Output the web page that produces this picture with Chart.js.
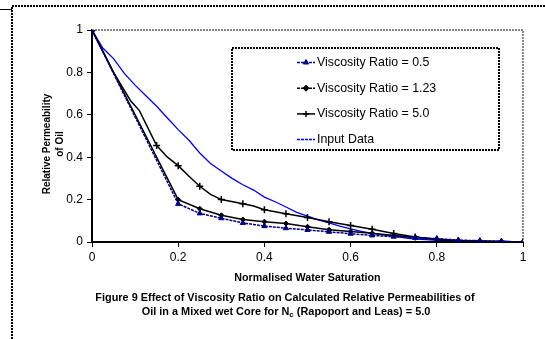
<!DOCTYPE html>
<html>
<head>
<meta charset="utf-8">
<script src="https://cdn.jsdelivr.net/npm/chart.js@4.4.1/dist/chart.umd.min.js"></script>
<style>
html, body { margin: 0; padding: 0; background: #fff; }
#chart { display: block; }
</style>
</head>
<body>
<canvas id="chart" width="545" height="339"></canvas>
<script>
// --- data ---
var xInput = [0, 0.025, 0.05, 0.075, 0.1, 0.125, 0.15, 0.175, 0.2, 0.225, 0.25, 0.275, 0.3, 0.325, 0.35, 0.375,
	0.4, 0.425, 0.45, 0.475, 0.5, 0.525, 0.55, 0.575, 0.6, 0.625, 0.65, 0.675, 0.7, 0.725, 0.75, 0.775, 0.8,
	0.85, 0.9, 0.95, 1];
var yInput = [1, 0.915, 0.865, 0.795, 0.74, 0.69, 0.64, 0.585, 0.53, 0.48, 0.42, 0.37, 0.335, 0.3, 0.27, 0.245,
	0.212, 0.19, 0.165, 0.14, 0.122, 0.104, 0.09, 0.075, 0.062, 0.05, 0.041, 0.034, 0.028, 0.02, 0.014, 0.011, 0.008,
	0.005, 0.003, 0.001, 0];

var xCoarse = [0, 0.2, 0.25, 0.3, 0.35, 0.4, 0.45, 0.5, 0.55, 0.6, 0.65, 0.7, 0.75, 0.8, 0.85, 0.9, 0.95, 1];
var yRatio05 = [1, 0.18, 0.135, 0.112, 0.09, 0.075, 0.065, 0.057, 0.048, 0.039, 0.031, 0.025, 0.02, 0.016, 0.009, 0.006, 0.003, 0];
var yRatio123 = [1, 0.2, 0.157, 0.126, 0.106, 0.096, 0.087, 0.072, 0.058, 0.049, 0.041, 0.031, 0.022, 0.012, 0.006, 0.004, 0.002, 0];

var xRatio50 = [0, 0.05, 0.09, 0.11, 0.15, 0.175, 0.2, 0.225, 0.25, 0.275, 0.3, 0.35, 0.375, 0.4, 0.45, 0.5,
	0.55, 0.6, 0.65, 0.7, 0.75, 0.8, 0.85, 0.9, 0.95, 1];
var yRatio50 = [1, 0.8, 0.665, 0.62, 0.455, 0.4, 0.36, 0.31, 0.263, 0.225, 0.2, 0.18, 0.17, 0.152, 0.133, 0.116,
	0.096, 0.078, 0.06, 0.04, 0.024, 0.013, 0.007, 0.004, 0.002, 0];

var xTicks = [0, 0.2, 0.4, 0.6, 0.8, 1];
var yTicks = [0, 0.2, 0.4, 0.6, 0.8, 1];

var xTitle = "Normalised Water Saturation";
var yTitle = ["Relative Permeability", "of Oil"];
var caption1 = "Figure 9 Effect of Viscosity Ratio on Calculated Relative Permeabilities of";

var FONT = "Arial, 'Liberation Sans'";

function pts(xs, ys) {
	return xs.map(function(x, i) { return {x: x, y: ys[i]}; });
}

// markers only on the 0.05 grid, none on the steep first part
function gridRadius(r) {
	return function(c) {
		var x = c.raw ? c.raw.x : 0;
		if (x > 0 && x < 0.14) return 0;
		return Math.abs(x * 20 - Math.round(x * 20)) < 1e-6 ? r : 0;
	};
}

var datasets = [
	{
		label: "Viscosity Ratio = 0.5",
		data: pts(xCoarse, yRatio05),
		borderColor: "#000080",
		backgroundColor: "#000080",
		borderWidth: 1.5,
		borderDash: [3, 1],
		pointStyle: "triangle",
		pointRadius: 3,
		pointBorderWidth: 1,
		legendDash: [3, 1]
	},
	{
		label: "Viscosity Ratio = 1.23",
		data: pts(xCoarse, yRatio123),
		borderColor: "#000",
		backgroundColor: "#000",
		borderWidth: 1.5,
		pointStyle: "rectRot",
		pointRadius: 2.5,
		pointBorderWidth: 1,
		legendDash: [3, 1]
	},
	{
		label: "Viscosity Ratio = 5.0",
		data: pts(xRatio50, yRatio50),
		borderColor: "#000",
		backgroundColor: "#000",
		borderWidth: 1.5,
		pointStyle: "cross",
		pointRadius: gridRadius(3.5),
		pointBorderWidth: 1.5,
		legendDash: []
	},
	{
		label: "Input Data",
		data: pts(xInput, yInput),
		borderColor: "#0000ff",
		backgroundColor: "#0000ff",
		borderWidth: 1.3,
		pointRadius: 0,
		legendDash: [3, 1]
	}
];

// frame, plot border, titles, caption and legend box
var decor = {
	id: "decor",
	beforeDatasetsDraw: function(chart) {
		var c = chart.ctx, a = chart.chartArea;
		c.save();
		c.strokeStyle = "#888";
		c.lineWidth = 2;
		c.setLineDash([2, 1]);
		c.beginPath();
		c.moveTo(a.left, a.top);
		c.lineTo(a.right, a.top);
		c.lineTo(a.right, a.bottom);
		c.stroke();
		c.restore();
	},
	afterDraw: function(chart) {
		var c = chart.ctx, a = chart.chartArea;
		c.save();
		// page frame
		c.strokeStyle = "#000";
		c.lineWidth = 2;
		c.setLineDash([2, 1]);
		c.beginPath();
		c.moveTo(545, 6);
		c.lineTo(12, 6);
		c.lineTo(12, 339);
		c.stroke();
		c.setLineDash([]);
		c.lineWidth = 1;
		c.beginPath();
		c.moveTo(0, 9.5);
		c.lineTo(12, 9.5);
		c.stroke();

		// y title
		c.fillStyle = "#000";
		c.font = "bold 10px " + FONT;
		c.textAlign = "center";
		c.textBaseline = "middle";
		c.save();
		c.translate(47, 144);
		c.rotate(-Math.PI / 2);
		c.fillText(yTitle[0], 0, 0);
		c.fillText(yTitle[1], 0, 13);
		c.restore();

		// x title
		c.font = "bold 10.7px " + FONT;
		c.fillText(xTitle, (a.left + a.right) / 2, 278);

		// caption
		c.font = "bold 10.9px " + FONT;
		c.fillText(caption1, 285, 298);
		var p1 = "Oil in a Mixed wet Core for N", p2 = "c", p3 = " (Rapoport and Leas) = 5.0";
		var w1 = c.measureText(p1).width, w3 = c.measureText(p3).width;
		c.font = "bold 8px " + FONT;
		var w2 = c.measureText(p2).width;
		var x0 = 286 - (w1 + w2 + w3) / 2;
		c.textAlign = "left";
		c.font = "bold 10.9px " + FONT;
		c.fillText(p1, x0, 312);
		c.fillText(p3, x0 + w1 + w2, 312);
		c.font = "bold 8px " + FONT;
		c.fillText(p2, x0 + w1, 315);

		// legend
		c.fillStyle = "#fff";
		c.fillRect(232, 48, 267, 102);
		c.strokeStyle = "#000";
		c.lineWidth = 2;
		c.setLineDash([2, 1]);
		c.strokeRect(232, 48, 267, 102);
		c.font = "12.4px " + FONT;
		c.textBaseline = "middle";
		chart.data.datasets.forEach(function(ds, i) {
			var y = 62.5 + i * 25.7;
			c.strokeStyle = ds.borderColor;
			c.lineWidth = 1.5;
			c.setLineDash(ds.legendDash);
			c.beginPath();
			c.moveTo(297, y);
			c.lineTo(315, y);
			c.stroke();
			c.setLineDash([]);
			if (ds.pointStyle) {
				c.fillStyle = ds.backgroundColor;
				c.strokeStyle = ds.borderColor;
				c.lineWidth = ds.pointBorderWidth;
				Chart.helpers.drawPoint(c, {pointStyle: ds.pointStyle, radius: 3, rotation: 0, borderWidth: ds.pointBorderWidth}, 306, y);
			}
			c.fillStyle = "#000";
			c.fillText(ds.label, 317, y);
		});
		c.restore();
	}
};

function plainLabel(v) { return String(v); }

var chart = new Chart(document.getElementById("chart"), {
	type: "line",
	data: { datasets: datasets },
	options: {
		responsive: false,
		animation: false,
		layout: { padding: { top: 30, right: 22, left: 0, bottom: 0 } },
		plugins: {
			legend: { display: false },
			tooltip: { enabled: false }
		},
		elements: { line: { tension: 0 } },
		scales: {
			x: {
				type: "linear",
				min: 0,
				max: 1,
				afterBuildTicks: function(s) { s.ticks = xTicks.map(function(v) { return {value: v}; }); },
				afterFit: function(s) { s.height = 97; },
				ticks: { font: { family: FONT, size: 12 }, color: "#000", padding: 3, maxRotation: 0, callback: plainLabel },
				grid: { drawOnChartArea: false, drawTicks: true, tickLength: 5, color: "#000" },
				border: { color: "#000", width: 2, dash: [2, 1] }
			},
			y: {
				type: "linear",
				min: 0,
				max: 1,
				afterBuildTicks: function(s) { s.ticks = yTicks.map(function(v) { return {value: v}; }); },
				afterFit: function(s) { s.width = 92; },
				ticks: { font: { family: FONT, size: 12 }, color: "#000", padding: 4, callback: plainLabel },
				grid: { drawOnChartArea: false, drawTicks: true, tickLength: 5, color: "#000" },
				border: { color: "#000", width: 2, dash: [2, 1] }
			}
		}
	},
	plugins: [decor]
});
</script>
</body>
</html>
